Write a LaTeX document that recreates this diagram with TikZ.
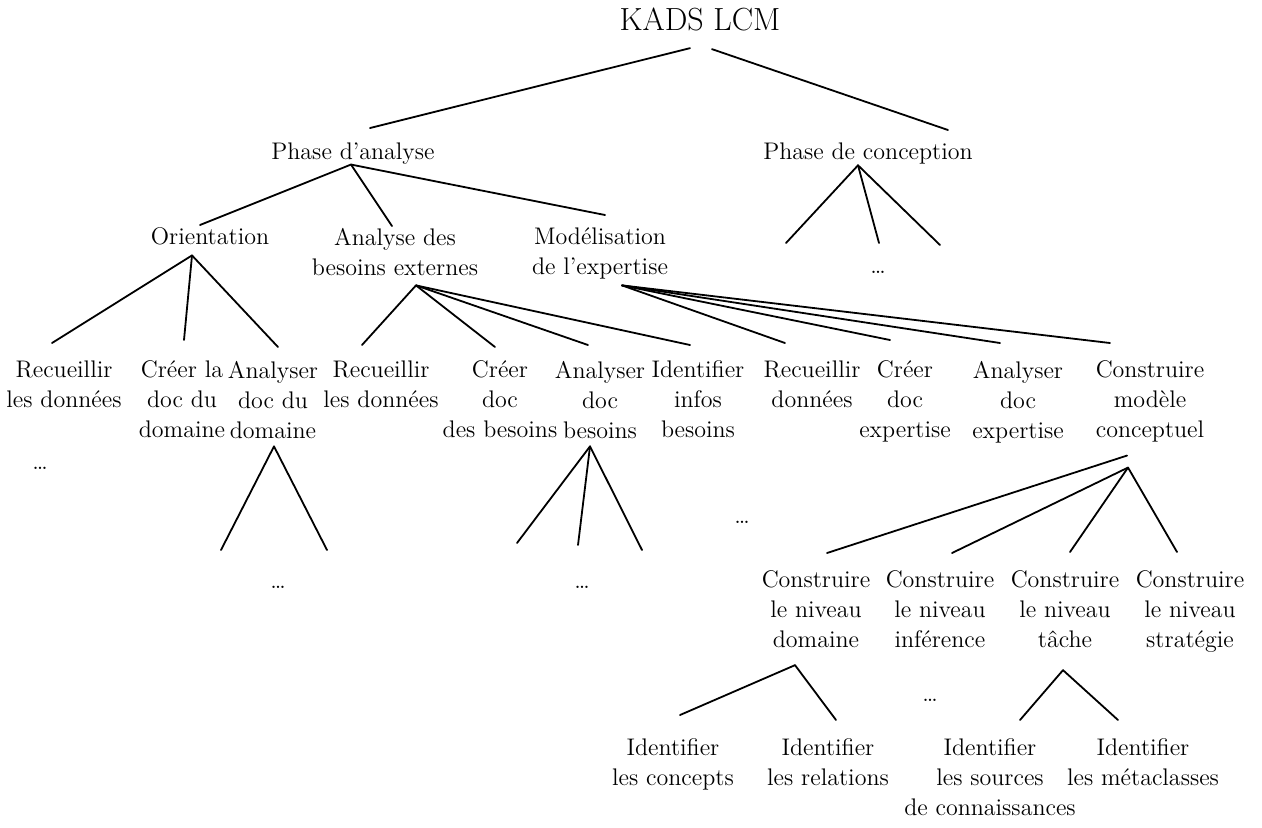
\documentclass[tikz,border=0pt]{standalone}
\usepackage{tikz}

\begin{document}
\begin{tikzpicture}[
    x=0.5pt, y=-0.5pt,
    word/.style={anchor=north, align=center, inner sep=0pt, outer sep=0pt, font=\fontsize{12}{15}\selectfont},
    head/.style={word, font=\fontsize{16}{18}\selectfont},
    elided/.style={inner sep=0pt, outer sep=0pt, font=\fontsize{12}{15}\selectfont},
    branch/.style={line width=0.9pt, line cap=round}
]
\useasboundingbox (0,0) rectangle (1262,827);

% Root and the two phases
\node[head] (kads) at (700,8) {KADS LCM};
\node[word] (pa) at (353,143) {Phase d'analyse};
\node[word] (pc) at (868,143) {Phase de conception};
\draw[branch] ([shift={(-10,17)}]kads.south) -- ([shift={(17,-15)}]pa.north);
\draw[branch] ([shift={(12,18)}]kads.south) -- ([shift={(80,-13)}]pc.north);

% Steps of the analysis phase
\node[word] (orient) at (210,228) {Orientation};
\node[word] (abe) at (395,228) {Analyse des\\besoins externes};
\node[word] (mexp) at (600,228) {Modélisation\\de l'expertise};
\draw[branch] ([shift={(-2,0)}]pa.south) -- ([shift={(-10,-3)}]orient.north);
\draw[branch] ([shift={(-2,0)}]pa.south) -- ([shift={(-3,-2)}]abe.north);
\draw[branch] ([shift={(-2,0)}]pa.south) -- ([shift={(5,-13)}]mexp.north);

% Design phase, not developed
\coordinate (pc-l) at (786,243);
\coordinate (pc-m) at (879,243);
\coordinate (pc-r) at (940,245);
\node[elided] (pcdots) at (878,272) {\dots};
\draw[branch] ([shift={(-10,1)}]pc.south) -- (pc-l);
\draw[branch] ([shift={(-10,1)}]pc.south) -- (pc-m);
\draw[branch] ([shift={(-10,1)}]pc.south) -- (pc-r);

% Tasks of each step
\node[word] (rd1) at (64,361) {Recueillir\\les données};
\node[word] (cd1) at (182,361) {Créer la\\doc du\\domaine};
\node[word] (ad1) at (273,361) {Analyser\\doc du\\domaine};
\node[word] (rd2) at (381,361) {Recueillir\\les données};
\node[word] (cd2) at (500,361) {Créer\\doc\\des besoins};
\node[word] (ad2) at (600,361) {Analyser\\doc\\besoins};
\node[word] (ib) at (698,361) {Identifier\\infos\\besoins};
\node[word] (rd3) at (812,361) {Recueillir\\données};
\node[word] (cd3) at (905,361) {Créer\\doc\\expertise};
\node[word] (ad3) at (1018,361) {Analyser\\doc\\expertise};
\node[word] (cmc) at (1150,361) {Construire\\modèle\\conceptuel};

\draw[branch] ([shift={(-18,10)}]orient.south) -- ([shift={(-12,-18)}]rd1.north);
\draw[branch] ([shift={(-18,10)}]orient.south) -- ([shift={(2,-21)}]cd1.north);
\draw[branch] ([shift={(-18,10)}]orient.south) -- ([shift={(5,-14)}]ad1.north);

\draw[branch] ([shift={(21,10)}]abe.south) -- ([shift={(-19,-16)}]rd2.north);
\draw[branch] ([shift={(21,10)}]abe.south) -- ([shift={(-5,-14)}]cd2.north);
\draw[branch] ([shift={(21,10)}]abe.south) -- ([shift={(-12,-16)}]ad2.north);
\draw[branch] ([shift={(21,10)}]abe.south) -- ([shift={(-8,-16)}]ib.north);

\draw[branch] ([shift={(22,6)}]mexp.south) -- ([shift={(-27,-18)}]rd3.north);
\draw[branch] ([shift={(22,6)}]mexp.south) -- ([shift={(-15,-21)}]cd3.north);
\draw[branch] ([shift={(22,6)}]mexp.south) -- ([shift={(-18,-18)}]ad3.north);
\draw[branch] ([shift={(22,6)}]mexp.south) -- ([shift={(-40,-18)}]cmc.north);

% Sub-tasks left out
\node[elided] (rd1dots) at (40,468) {\dots};
\coordinate (ad1-l) at (221,550);
\coordinate (ad1-r) at (327,550);
\node[elided] (ad1dots) at (278,587) {\dots};
\draw[branch] ([shift={(1,8)}]ad1.south) -- (ad1-l);
\draw[branch] ([shift={(1,8)}]ad1.south) -- (ad1-r);

\coordinate (ad2-l) at (517,543);
\coordinate (ad2-m) at (578,545);
\coordinate (ad2-r) at (642,550);
\node[elided] (ad2dots) at (582,587) {\dots};
\draw[branch] ([shift={(-10,8)}]ad2.south) -- (ad2-l);
\draw[branch] ([shift={(-10,8)}]ad2.south) -- (ad2-m);
\draw[branch] ([shift={(-10,8)}]ad2.south) -- (ad2-r);
\node[elided] (ibdots) at (742,522) {\dots};

% Levels of the conceptual model
\node[word] (cnd) at (816,571) {Construire\\le niveau\\domaine};
\node[word] (cni) at (940,571) {Construire\\le niveau\\inférence};
\node[word] (cnt) at (1065,571) {Construire\\le niveau\\tâche};
\node[word] (cns) at (1190,571) {Construire\\le niveau\\stratégie};
\draw[branch] ([shift={(-23,13)}]cmc.south) -- ([shift={(11,-18)}]cnd.north);
\draw[branch] ([shift={(-22,25)}]cmc.south) -- ([shift={(12,-18)}]cni.north);
\draw[branch] ([shift={(-22,25)}]cmc.south) -- ([shift={(5,-19)}]cnt.north);
\draw[branch] ([shift={(-22,25)}]cmc.south) -- ([shift={(-13,-19)}]cns.north);

% Bottom level
\node[word] (idc) at (673,739) {Identifier\\les concepts};
\node[word] (idr) at (828,739) {Identifier\\les relations};
\node[word] (ids) at (990,739) {Identifier\\les sources\\de connaissances};
\node[word] (idm) at (1143,739) {Identifier\\les métaclasses};
\node[elided] (cnidots) at (930,700) {\dots};
\draw[branch] ([shift={(-21,17)}]cnd.south) -- ([shift={(7,-24)}]idc.north);
\draw[branch] ([shift={(-21,17)}]cnd.south) -- ([shift={(8,-19)}]idr.north);
\draw[branch] ([shift={(-2,22)}]cnt.south) -- ([shift={(30,-19)}]ids.north);
\draw[branch] ([shift={(-2,22)}]cnt.south) -- ([shift={(-25,-19)}]idm.north);
\end{tikzpicture}
\end{document}
